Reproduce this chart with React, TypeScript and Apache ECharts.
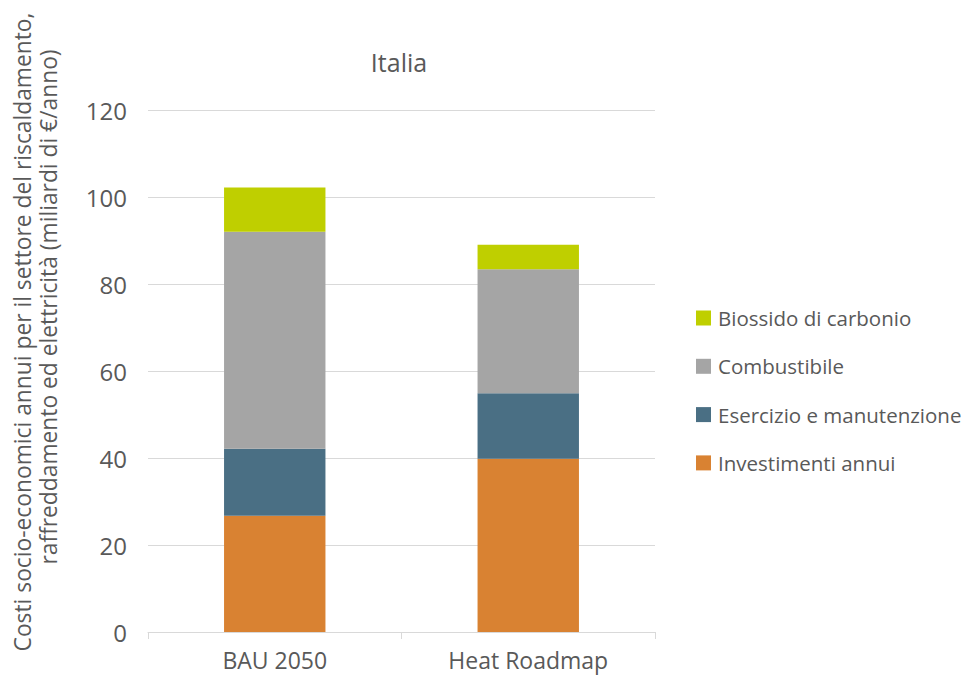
import React, { useEffect, useRef } from "react";
import * as echarts from "echarts";

const categories = ["BAU 2050", "Heat Roadmap"];
const investimenti = [26.7, 39.8];
const esercizio = [15.4, 15.1];
const combustibile = [49.9, 28.5];
const biossido = [10.2, 5.6];
const yTicks = { min: 0, max: 120, interval: 20 };

const FONT = "Open Sans";
const TXT = "#595959";

export default function App() {
  const ref = useRef<HTMLDivElement>(null);
  useEffect(() => {
    const chart = echarts.init(ref.current!, undefined, { renderer: "svg" });
    const mk = (name: string, data: number[], color: string) => ({
      name,
      type: "bar",
      stack: "total",
      data,
      barWidth: "40%",
      itemStyle: { color },
      emphasis: { disabled: true },
    });
    chart.setOption({
      animation: false,
      textStyle: { fontFamily: FONT },
      title: {
        text: "Italia",
        left: 399,
        top: 46,
        textAlign: "center",
        padding: 0,
        textStyle: { fontFamily: FONT, fontSize: 25, lineHeight: 32, fontWeight: "normal", color: TXT },
      },
      grid: { left: 148, right: 312, top: 110, bottom: 43, containLabel: false },
      legend: {
        orient: "vertical",
        left: 696,
        top: 306,
        padding: 0,
        itemWidth: 15,
        itemHeight: 15,
        itemGap: 24.3,
        icon: "rect",
        data: ["Biossido di carbonio", "Combustibile", "Esercizio e manutenzione", "Investimenti annui"],
        textStyle: { fontFamily: FONT, fontSize: 20.5, lineHeight: 24, color: TXT, padding: [0, 0, 0, 2] },
      },
      xAxis: {
        type: "category",
        data: categories,
        axisLine: { lineStyle: { color: "#D9D9D9" } },
        axisTick: { show: true, length: 7, lineStyle: { color: "#D9D9D9" } },
        axisLabel: { fontFamily: FONT, fontSize: 23, color: TXT, margin: 16 },
      },
      yAxis: {
        type: "value",
        min: yTicks.min,
        max: yTicks.max,
        interval: yTicks.interval,
        axisLine: { show: false },
        axisTick: { show: false },
        splitLine: { lineStyle: { color: "#D9D9D9" } },
        axisLabel: { fontFamily: FONT, fontSize: 24, color: TXT, margin: 21 },
      },
      graphic: [
        {
          type: "text",
          x: 22,
          y: 332,
          rotation: Math.PI / 2,
          style: {
            text: "Costi socio-economici annui per il settore del riscaldamento,",
            fontFamily: FONT,
            fontSize: 22.8,
            fill: TXT,
            align: "center",
            verticalAlign: "middle",
          },
        },
        {
          type: "text",
          x: 48,
          y: 307,
          rotation: Math.PI / 2,
          style: {
            text: "raffreddamento ed elettricità (miliardi di €/anno)",
            fontFamily: FONT,
            fontSize: 22.8,
            fill: TXT,
            align: "center",
            verticalAlign: "middle",
          },
        },
      ],
      series: [
        mk("Investimenti annui", investimenti, "#D98232"),
        mk("Esercizio e manutenzione", esercizio, "#4A6F84"),
        mk("Combustibile", combustibile, "#A5A5A5"),
        mk("Biossido di carbonio", biossido, "#BFCF00"),
      ],
    });
    return () => chart.dispose();
  }, []);
  return <div ref={ref} style={{ width: 967, height: 675, position: "absolute", left: 0, top: 0 }} />;
}
